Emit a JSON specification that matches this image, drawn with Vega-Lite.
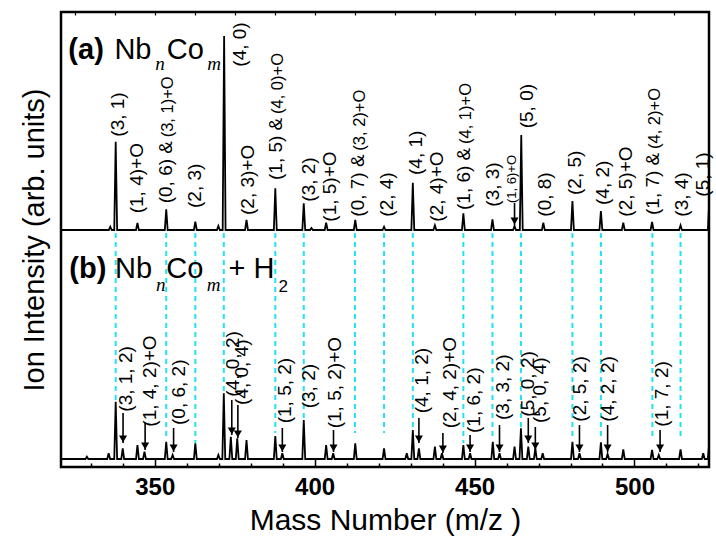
{
  "$schema": "https://vega.github.io/schema/vega-lite/v6.json",
  "width": 648,
  "height": 455,
  "autosize": "none",
  "padding": {"left": 61, "top": 12, "right": 7, "bottom": 82},
  "background": "white",
  "config": {
    "view": {"stroke": "black", "strokeWidth": 2.5},
    "font": "Liberation Sans"
  },
  "datasets": {
    "spec": [
      {"s":"a","m":320.7,"y":237},
      {"s":"a","m":335.65,"y":237},{"s":"a","m":336.1,"y":240.3},{"s":"a","m":336.55,"y":237},
      {"s":"a","m":337.35,"y":237},{"s":"a","m":337.8,"y":325.3},{"s":"a","m":338.25,"y":237},
      {"s":"a","m":344.15,"y":237},{"s":"a","m":344.6,"y":244},{"s":"a","m":345.05,"y":237},
      {"s":"a","m":353.15,"y":237},{"s":"a","m":353.6,"y":257.7},{"s":"a","m":354.05,"y":237},
      {"s":"a","m":362.25,"y":237},{"s":"a","m":362.7,"y":245.3},{"s":"a","m":363.15,"y":237},
      {"s":"a","m":369.45,"y":237},{"s":"a","m":369.9,"y":241},{"s":"a","m":370.35,"y":237},
      {"s":"a","m":371.25,"y":237},{"s":"a","m":371.7,"y":431},{"s":"a","m":372.15,"y":237},
      {"s":"a","m":378.25,"y":237},{"s":"a","m":378.7,"y":247},{"s":"a","m":379.15,"y":237},
      {"s":"a","m":387.25,"y":237},{"s":"a","m":387.7,"y":278.7},{"s":"a","m":388.15,"y":237},
      {"s":"a","m":396.15,"y":237},{"s":"a","m":396.6,"y":263.7},{"s":"a","m":397.05,"y":237},
      {"s":"a","m":398.55,"y":237},{"s":"a","m":399.0,"y":239},{"s":"a","m":399.45,"y":237},
      {"s":"a","m":403.15,"y":237},{"s":"a","m":403.6,"y":244.3},{"s":"a","m":404.05,"y":237},
      {"s":"a","m":412.25,"y":237},{"s":"a","m":412.7,"y":247},{"s":"a","m":413.15,"y":237},
      {"s":"a","m":421.25,"y":237},{"s":"a","m":421.7,"y":240.3},{"s":"a","m":422.15,"y":237},
      {"s":"a","m":430.25,"y":237},{"s":"a","m":430.7,"y":284.3},{"s":"a","m":431.15,"y":237},
      {"s":"a","m":437.15,"y":237},{"s":"a","m":437.6,"y":241.7},{"s":"a","m":438.05,"y":237},
      {"s":"a","m":446.05,"y":237},{"s":"a","m":446.5,"y":253.7},{"s":"a","m":446.95,"y":237},
      {"s":"a","m":455.15,"y":237},{"s":"a","m":455.6,"y":247.7},{"s":"a","m":456.05,"y":237},
      {"s":"a","m":462.05,"y":237},{"s":"a","m":462.5,"y":241},{"s":"a","m":462.95,"y":237},
      {"s":"a","m":464.15,"y":237},{"s":"a","m":464.6,"y":332},{"s":"a","m":465.05,"y":237},
      {"s":"a","m":471.05,"y":237},{"s":"a","m":471.5,"y":244.3},{"s":"a","m":471.95,"y":237},
      {"s":"a","m":480.15,"y":237},{"s":"a","m":480.6,"y":266},{"s":"a","m":481.05,"y":237},
      {"s":"a","m":489.05,"y":237},{"s":"a","m":489.5,"y":256},{"s":"a","m":489.95,"y":237},
      {"s":"a","m":496.05,"y":237},{"s":"a","m":496.5,"y":244.3},{"s":"a","m":496.95,"y":237},
      {"s":"a","m":505.05,"y":237},{"s":"a","m":505.5,"y":245},{"s":"a","m":505.95,"y":237},
      {"s":"a","m":513.95,"y":237},{"s":"a","m":514.4,"y":241.7},{"s":"a","m":514.85,"y":237},
      {"s":"a","m":522.95,"y":237},{"s":"a","m":523.4,"y":267},{"s":"a","m":523.85,"y":237},

      {"s":"b","m":320.7,"y":8},
      {"s":"b","m":328.35,"y":8},{"s":"b","m":328.8,"y":10.3},{"s":"b","m":329.25,"y":8},
      {"s":"b","m":335.15,"y":8},{"s":"b","m":335.6,"y":13.7},{"s":"b","m":336.05,"y":8},
      {"s":"b","m":337.35,"y":8},{"s":"b","m":337.8,"y":65.3},{"s":"b","m":338.25,"y":8},
      {"s":"b","m":339.55,"y":8},{"s":"b","m":340.0,"y":18.7},{"s":"b","m":340.45,"y":8},
      {"s":"b","m":344.15,"y":8},{"s":"b","m":344.6,"y":22},{"s":"b","m":345.05,"y":8},
      {"s":"b","m":346.35,"y":8},{"s":"b","m":346.8,"y":15.3},{"s":"b","m":347.25,"y":8},
      {"s":"b","m":353.15,"y":8},{"s":"b","m":353.6,"y":25.3},{"s":"b","m":354.05,"y":8},
      {"s":"b","m":355.15,"y":8},{"s":"b","m":355.6,"y":12},{"s":"b","m":356.05,"y":8},
      {"s":"b","m":362.25,"y":8},{"s":"b","m":362.7,"y":23.7},{"s":"b","m":363.15,"y":8},
      {"s":"b","m":369.45,"y":8},{"s":"b","m":369.9,"y":12},{"s":"b","m":370.35,"y":8},
      {"s":"b","m":371.15,"y":8},{"s":"b","m":371.6,"y":73.7},{"s":"b","m":372.05,"y":8},
      {"s":"b","m":373.35,"y":8},{"s":"b","m":373.8,"y":30.3},{"s":"b","m":374.25,"y":8},
      {"s":"b","m":375.35,"y":8},{"s":"b","m":375.8,"y":28.7},{"s":"b","m":376.25,"y":8},
      {"s":"b","m":378.25,"y":8},{"s":"b","m":378.7,"y":27},{"s":"b","m":379.15,"y":8},
      {"s":"b","m":387.25,"y":8},{"s":"b","m":387.7,"y":31},{"s":"b","m":388.15,"y":8},
      {"s":"b","m":389.45,"y":8},{"s":"b","m":389.9,"y":13.7},{"s":"b","m":390.35,"y":8},
      {"s":"b","m":396.15,"y":8},{"s":"b","m":396.6,"y":47},{"s":"b","m":397.05,"y":8},
      {"s":"b","m":403.15,"y":8},{"s":"b","m":403.6,"y":22},{"s":"b","m":404.05,"y":8},
      {"s":"b","m":405.35,"y":8},{"s":"b","m":405.8,"y":13.7},{"s":"b","m":406.25,"y":8},
      {"s":"b","m":412.25,"y":8},{"s":"b","m":412.7,"y":23.7},{"s":"b","m":413.15,"y":8},
      {"s":"b","m":421.25,"y":8},{"s":"b","m":421.7,"y":18.7},{"s":"b","m":422.15,"y":8},
      {"s":"b","m":428.35,"y":8},{"s":"b","m":428.8,"y":13.7},{"s":"b","m":429.25,"y":8},
      {"s":"b","m":430.25,"y":8},{"s":"b","m":430.7,"y":37},{"s":"b","m":431.15,"y":8},
      {"s":"b","m":432.15,"y":8},{"s":"b","m":432.6,"y":18.7},{"s":"b","m":433.05,"y":8},
      {"s":"b","m":437.15,"y":8},{"s":"b","m":437.6,"y":20.3},{"s":"b","m":438.05,"y":8},
      {"s":"b","m":439.35,"y":8},{"s":"b","m":439.8,"y":13.7},{"s":"b","m":440.25,"y":8},
      {"s":"b","m":446.05,"y":8},{"s":"b","m":446.5,"y":22},{"s":"b","m":446.95,"y":8},
      {"s":"b","m":448.15,"y":8},{"s":"b","m":448.6,"y":13.7},{"s":"b","m":449.05,"y":8},
      {"s":"b","m":455.25,"y":8},{"s":"b","m":455.7,"y":25.3},{"s":"b","m":456.15,"y":8},
      {"s":"b","m":457.35,"y":8},{"s":"b","m":457.8,"y":13.7},{"s":"b","m":458.25,"y":8},
      {"s":"b","m":462.05,"y":8},{"s":"b","m":462.5,"y":20.3},{"s":"b","m":462.95,"y":8},
      {"s":"b","m":464.05,"y":8},{"s":"b","m":464.5,"y":38.7},{"s":"b","m":464.95,"y":8},
      {"s":"b","m":466.35,"y":8},{"s":"b","m":466.8,"y":20.3},{"s":"b","m":467.25,"y":8},
      {"s":"b","m":468.55,"y":8},{"s":"b","m":469.0,"y":18.7},{"s":"b","m":469.45,"y":8},
      {"s":"b","m":470.85,"y":8},{"s":"b","m":471.3,"y":13.7},{"s":"b","m":471.75,"y":8},
      {"s":"b","m":480.15,"y":8},{"s":"b","m":480.6,"y":25.3},{"s":"b","m":481.05,"y":8},
      {"s":"b","m":482.35,"y":8},{"s":"b","m":482.8,"y":13.7},{"s":"b","m":483.25,"y":8},
      {"s":"b","m":489.05,"y":8},{"s":"b","m":489.5,"y":24.7},{"s":"b","m":489.95,"y":8},
      {"s":"b","m":491.15,"y":8},{"s":"b","m":491.6,"y":13},{"s":"b","m":492.05,"y":8},
      {"s":"b","m":496.05,"y":8},{"s":"b","m":496.5,"y":17.7},{"s":"b","m":496.95,"y":8},
      {"s":"b","m":505.05,"y":8},{"s":"b","m":505.5,"y":17},{"s":"b","m":505.95,"y":8},
      {"s":"b","m":507.15,"y":8},{"s":"b","m":507.6,"y":12},{"s":"b","m":508.05,"y":8},
      {"s":"b","m":513.95,"y":8},{"s":"b","m":514.4,"y":17.7},{"s":"b","m":514.85,"y":8},
      {"s":"b","m":521.05,"y":8},{"s":"b","m":521.5,"y":13.7},{"s":"b","m":521.95,"y":8},
      {"s":"b","m":522.95,"y":8},{"s":"b","m":523.4,"y":25.3},{"s":"b","m":523.85,"y":8}
    ],
    "cyan": [
      {"m":337.8,"top":234,"bot":67},
      {"m":353.6,"top":234,"bot":27},
      {"m":362.7,"top":234,"bot":24},
      {"m":371.6,"top":234,"bot":74},
      {"m":387.7,"top":234,"bot":34},
      {"m":396.6,"top":234,"bot":47},
      {"m":412.6,"top":234,"bot":34},
      {"m":421.7,"top":234,"bot":34},
      {"m":430.7,"top":234,"bot":37},
      {"m":446.5,"top":234,"bot":24},
      {"m":455.6,"top":234,"bot":27},
      {"m":464.5,"top":234,"bot":40},
      {"m":480.6,"top":234,"bot":27},
      {"m":489.5,"top":234,"bot":27},
      {"m":505.6,"top":234,"bot":30},
      {"m":514.4,"top":234,"bot":27}
    ],
    "labels": [
      {"t":"(3, 1)","m":338.4,"y":330.3,"k":"main"},
      {"t":"(1, 4)+O","m":344.6,"y":253.7,"k":"main"},
      {"t":"(0, 6) &","m":353.6,"y":263.7,"k":"main"},
      {"t":"(3, 1)+O","m":354.3,"y":329.7,"k":"suffix"},
      {"t":"(2, 3)","m":362.7,"y":259,"k":"main"},
      {"t":"(4, 0)","m":376.7,"y":400.3,"k":"main"},
      {"t":"(2, 3)+O","m":379.3,"y":252,"k":"main"},
      {"t":"(1, 5) &","m":388.0,"y":287,"k":"main"},
      {"t":"(4, 0)+O","m":388.6,"y":353,"k":"suffix"},
      {"t":"(3, 2)","m":398.1,"y":265.3,"k":"main"},
      {"t":"(1, 5)+O","m":404.9,"y":245.3,"k":"main"},
      {"t":"(0, 7) &","m":413.7,"y":250.3,"k":"main"},
      {"t":"(3, 2)+O","m":414.3,"y":316.3,"k":"suffix"},
      {"t":"(2, 4)","m":422.6,"y":250.3,"k":"main"},
      {"t":"(4, 1)","m":431.6,"y":292,"k":"main"},
      {"t":"(2, 4)+O","m":438.2,"y":245.3,"k":"main"},
      {"t":"(1, 6) &","m":446.8,"y":257,"k":"main"},
      {"t":"(4, 1)+O","m":447.4,"y":323,"k":"suffix"},
      {"t":"(3, 3)","m":455.7,"y":260.3,"k":"main"},
      {"t":"(1, 6)+O","m":461.6,"y":264,"k":"tiny"},
      {"t":"(5, 0)","m":466.3,"y":338.7,"k":"main"},
      {"t":"(0, 8)","m":472.0,"y":250.3,"k":"main"},
      {"t":"(2, 5)","m":481.4,"y":272,"k":"main"},
      {"t":"(4, 2)","m":490.3,"y":262,"k":"main"},
      {"t":"(2, 5)+O","m":497.3,"y":250.3,"k":"main"},
      {"t":"(1, 7) &","m":505.9,"y":252,"k":"main"},
      {"t":"(4, 2)+O","m":506.5,"y":318,"k":"suffix"},
      {"t":"(3, 4)","m":514.8,"y":250.3,"k":"main"},
      {"t":"(5, 1)","m":521.5,"y":270.3,"k":"main"},
      {"t":"(3, 1, 2)","m":341.1,"y":55.3,"k":"main"},
      {"t":"(1, 4, 2)+O","m":348.6,"y":40.3,"k":"main"},
      {"t":"(0, 6, 2)","m":357.5,"y":42,"k":"main"},
      {"t":"(4, 0, 2)","m":374.6,"y":70.3,"k":"main"},
      {"t":"(4, 0, 4)","m":377.3,"y":62,"k":"main"},
      {"t":"(1, 5, 2)","m":390.8,"y":43.7,"k":"main"},
      {"t":"(3, 2)","m":398.1,"y":58.7,"k":"main"},
      {"t":"(1, 5, 2)+O","m":406.4,"y":38.7,"k":"main"},
      {"t":"(4, 1, 2)","m":433.5,"y":53.7,"k":"main"},
      {"t":"(2, 4, 2)+O","m":442.3,"y":38.7,"k":"main"},
      {"t":"(1, 6, 2)","m":449.9,"y":34,"k":"main"},
      {"t":"(3, 3, 2)","m":458.8,"y":47,"k":"main"},
      {"t":"(5, 0, 2)","m":466.8,"y":50.3,"k":"main"},
      {"t":"(5, 0, 4)","m":470.5,"y":44,"k":"main"},
      {"t":"(2, 5, 2)","m":483.0,"y":45.3,"k":"main"},
      {"t":"(4, 2, 2)","m":491.8,"y":45.3,"k":"main"},
      {"t":"(1, 7, 2)","m":508.5,"y":40.3,"k":"main"}
    ],
    "arrows": [
      {"m":462.5,"top":264,"tip":242},
      {"m":340.1,"top":54,"tip":24},
      {"m":347.0,"top":44,"tip":17},
      {"m":355.9,"top":39,"tip":15},
      {"m":374.1,"top":67,"tip":32},
      {"m":376.0,"top":62,"tip":29},
      {"m":389.9,"top":39,"tip":15},
      {"m":405.9,"top":37,"tip":15},
      {"m":432.6,"top":49,"tip":24},
      {"m":440.1,"top":34,"tip":14},
      {"m":448.6,"top":32,"tip":15},
      {"m":457.8,"top":42,"tip":15},
      {"m":466.8,"top":49,"tip":24},
      {"m":469.0,"top":40,"tip":17},
      {"m":482.8,"top":42,"tip":15},
      {"m":491.6,"top":42,"tip":15},
      {"m":508.0,"top":37,"tip":15}
    ],
    "titles": [
      {"t":"(a)","m":323.0,"y":408,"r":"panel"},
      {"t":"Nb","m":337.4,"y":408,"r":"formula"},
      {"t":"n","m":350.2,"y":397,"r":"index"},
      {"t":"Co","m":353.8,"y":408,"r":"formula"},
      {"t":"m","m":366.4,"y":397,"r":"index"},
      {"t":"(b)","m":323.3,"y":189.3,"r":"panel"},
      {"t":"Nb","m":337.6,"y":189.3,"r":"formula"},
      {"t":"n","m":350.4,"y":176,"r":"index"},
      {"t":"Co","m":353.6,"y":189.3,"r":"formula"},
      {"t":"m","m":366.3,"y":176,"r":"index"},
      {"t":"+ H","m":373.1,"y":189.3,"r":"formula"},
      {"t":"2","m":388.7,"y":175.3,"r":"sub"}
    ]
  },
  "resolve": {"axis": {"x": "independent", "y": "independent"}},
  "layer": [
    {
      "data": {"name": "cyan"},
      "mark": {"type": "rule", "color": "#1ee3f5", "strokeWidth": 2, "strokeDash": [5, 4]},
      "encoding": {
        "x": {"field": "m", "type": "quantitative",
              "scale": {"domain": [320.7, 523.3], "nice": false, "zero": false},
              "axis": {"orient": "top", "values": [325, 337.5, 350, 362.5, 375, 387.5, 400, 412.5, 425, 437.5, 450, 462.5, 475, 487.5, 500, 512.5],
                       "labels": false, "domain": false, "grid": false, "tickSize": -3, "tickWidth": 1.2, "tickColor": "black", "title": null}},
        "y": {"field": "top", "type": "quantitative", "scale": {"domain": [0, 455], "nice": false, "zero": false}, "axis": null},
        "y2": {"field": "bot"}
      }
    },
    {
      "data": {"name": "spec"},
      "mark": {"type": "line", "color": "black", "strokeWidth": 1.8, "clip": true, "interpolate": "linear"},
      "encoding": {
        "x": {"field": "m", "type": "quantitative",
              "axis": {"orient": "bottom", "values": [330, 340, 350, 360, 370, 380, 390, 400, 410, 420, 430, 440, 450, 460, 470, 480, 490, 500, 510, 520],
                       "labelExpr": "datum.value % 50 === 0 ? datum.label : ''",
                       "domain": false, "grid": false, "tickColor": "black", "tickWidth": 1.5,
                       "tickSize": {"condition": {"test": "datum.value % 50 === 0", "value": -8}, "value": -4},
                       "labelFont": "Liberation Sans", "labelFontSize": 24, "labelFontWeight": "bold", "labelColor": "black",
                       "labelPadding": 16, "labelFlush": false,
                       "title": "Mass Number (m/z )", "titleFont": "Liberation Sans", "titleFontSize": 30, "titleFontWeight": "normal",
                       "titleColor": "black", "titlePadding": 6}},
        "y": {"field": "y", "type": "quantitative",
              "axis": {"title": "Ion Intensity (arb. units)", "labels": false, "ticks": false, "domain": false, "grid": false,
                       "titleFont": "Liberation Sans", "titleFontSize": 29, "titleFontWeight": "normal", "titleColor": "black", "titlePadding": 12}},
        "detail": {"field": "s"},
        "order": {"field": "m", "type": "quantitative"}
      }
    },
    {
      "data": {"name": "arrows"},
      "mark": {"type": "rule", "color": "black", "strokeWidth": 1.6},
      "encoding": {
        "x": {"field": "m", "type": "quantitative", "axis": null},
        "y": {"field": "top", "type": "quantitative", "axis": null},
        "y2": {"field": "tip"}
      }
    },
    {
      "data": {"name": "arrows"},
      "mark": {"type": "point", "shape": "triangle-down", "filled": true, "color": "black", "opacity": 1, "size": 65, "yOffset": -4},
      "encoding": {
        "x": {"field": "m", "type": "quantitative", "axis": null},
        "y": {"field": "tip", "type": "quantitative", "axis": null}
      }
    },
    {
      "data": {"name": "labels"},
      "transform": [{"filter": "datum.k === 'main'"}],
      "mark": {"type": "text", "angle": 270, "align": "left", "baseline": "middle", "font": "Liberation Sans", "fontSize": 19, "color": "black"},
      "encoding": {
        "x": {"field": "m", "type": "quantitative", "axis": null},
        "y": {"field": "y", "type": "quantitative", "axis": null},
        "text": {"field": "t"}
      }
    },
    {
      "data": {"name": "labels"},
      "transform": [{"filter": "datum.k === 'suffix'"}],
      "mark": {"type": "text", "angle": 270, "align": "left", "baseline": "middle", "font": "Liberation Sans", "fontSize": 16.5, "color": "black"},
      "encoding": {
        "x": {"field": "m", "type": "quantitative", "axis": null},
        "y": {"field": "y", "type": "quantitative", "axis": null},
        "text": {"field": "t"}
      }
    },
    {
      "data": {"name": "labels"},
      "transform": [{"filter": "datum.k === 'tiny'"}],
      "mark": {"type": "text", "angle": 270, "align": "left", "baseline": "middle", "font": "Liberation Sans", "fontSize": 13, "color": "black"},
      "encoding": {
        "x": {"field": "m", "type": "quantitative", "axis": null},
        "y": {"field": "y", "type": "quantitative", "axis": null},
        "text": {"field": "t"}
      }
    },
    {
      "data": {"name": "titles"},
      "transform": [{"filter": "datum.r === 'panel'"}],
      "mark": {"type": "text", "align": "left", "baseline": "alphabetic", "font": "Liberation Sans", "fontSize": 29, "fontWeight": "bold", "color": "black"},
      "encoding": {
        "x": {"field": "m", "type": "quantitative", "axis": null},
        "y": {"field": "y", "type": "quantitative", "axis": null},
        "text": {"field": "t"}
      }
    },
    {
      "data": {"name": "titles"},
      "transform": [{"filter": "datum.r === 'formula'"}],
      "mark": {"type": "text", "align": "left", "baseline": "alphabetic", "font": "Liberation Sans", "fontSize": 29, "color": "black"},
      "encoding": {
        "x": {"field": "m", "type": "quantitative", "axis": null},
        "y": {"field": "y", "type": "quantitative", "axis": null},
        "text": {"field": "t"}
      }
    },
    {
      "data": {"name": "titles"},
      "transform": [{"filter": "datum.r === 'index'"}],
      "mark": {"type": "text", "align": "left", "baseline": "alphabetic", "font": "Liberation Serif", "fontSize": 19, "fontStyle": "italic", "color": "black"},
      "encoding": {
        "x": {"field": "m", "type": "quantitative", "axis": null},
        "y": {"field": "y", "type": "quantitative", "axis": null},
        "text": {"field": "t"}
      }
    },
    {
      "data": {"name": "titles"},
      "transform": [{"filter": "datum.r === 'sub'"}],
      "mark": {"type": "text", "align": "left", "baseline": "alphabetic", "font": "Liberation Sans", "fontSize": 17, "color": "black"},
      "encoding": {
        "x": {"field": "m", "type": "quantitative", "axis": null},
        "y": {"field": "y", "type": "quantitative", "axis": null},
        "text": {"field": "t"}
      }
    }
  ]
}
